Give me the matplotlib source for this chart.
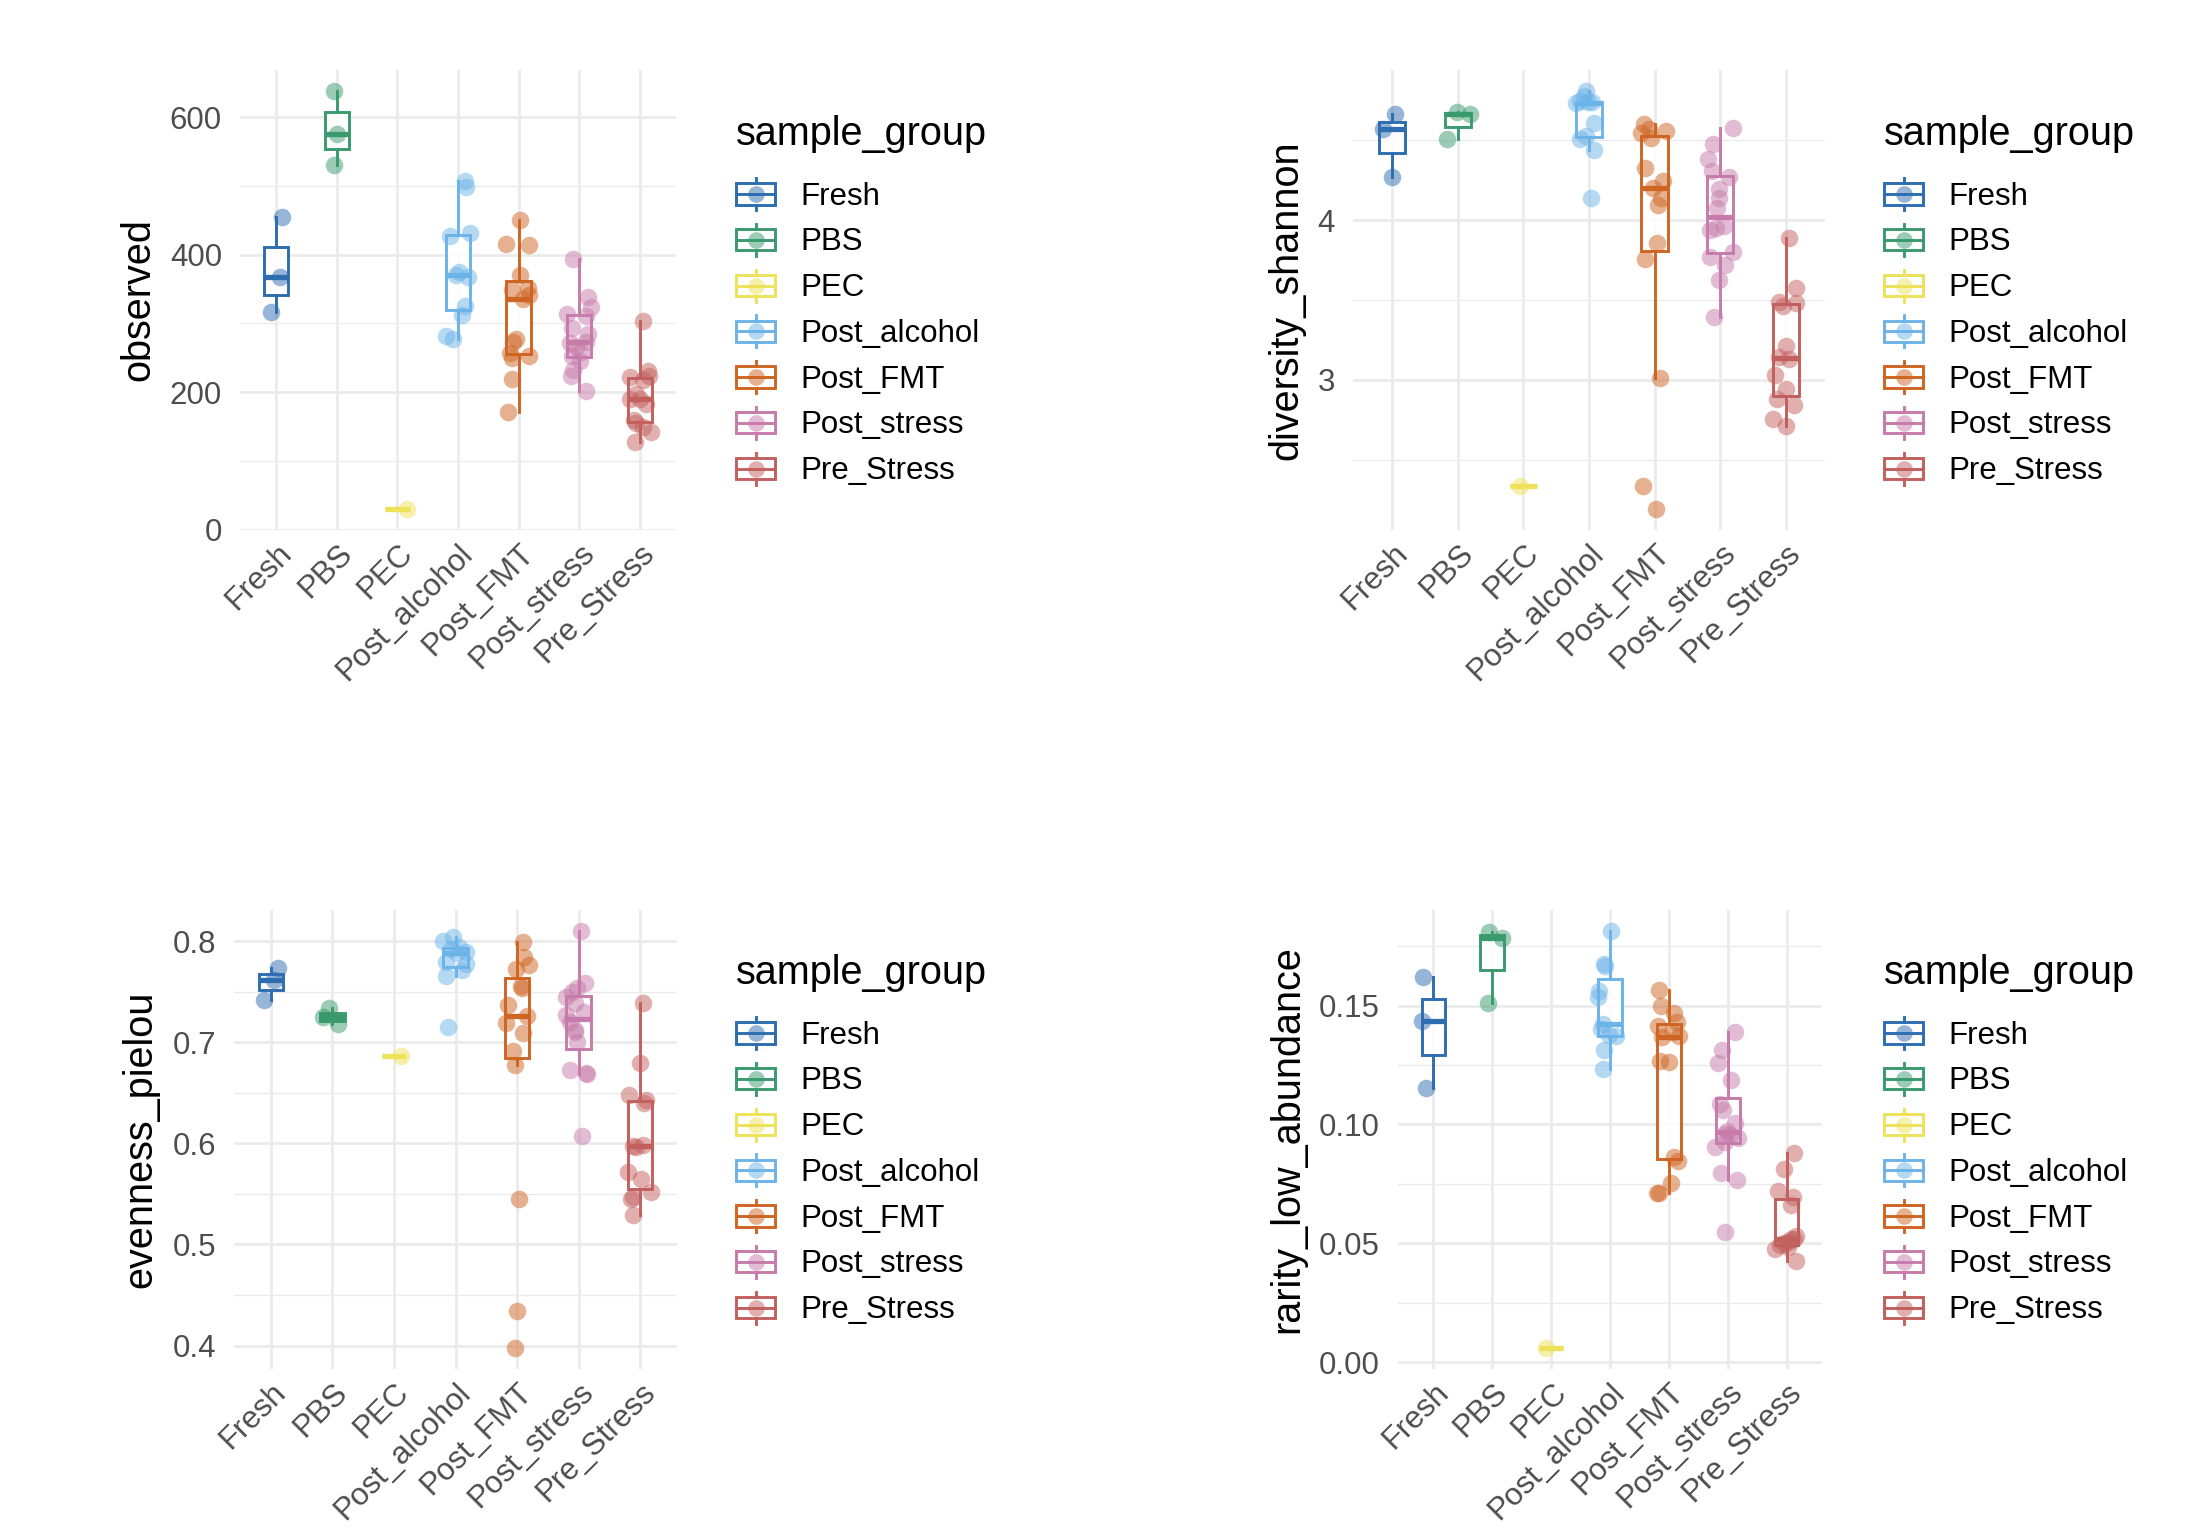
import numpy as np
import matplotlib
matplotlib.use("Agg")
import matplotlib.pyplot as plt
from matplotlib.legend_handler import HandlerBase
from matplotlib.patches import Rectangle, Patch
from matplotlib.lines import Line2D
from matplotlib.ticker import MultipleLocator, StrMethodFormatter
from matplotlib.transforms import ScaledTranslation

plt.rcParams['font.family'] = ['Liberation Sans', 'DejaVu Sans']

groups = ["Fresh", "PBS", "PEC", "Post_alcohol", "Post_FMT", "Post_stress", "Pre_Stress"]
group_colors = ["#2E6DB0", "#3A9A6E", "#EEE25A", "#6CB4E8", "#CE6522", "#C67BAA", "#C2605E"]

# values per group, and the horizontal jitter
observed = {
    "Fresh": [316, 367, 455],
    "PBS": [531, 576, 638],
    "PEC": [30],
    "Post_alcohol": [277, 281, 312, 326, 368, 370, 375, 427, 431, 498, 507],
    "Post_FMT": [171, 219, 250, 253, 257, 273, 277, 335, 341, 349, 352, 371, 414, 416, 451],
    "Post_stress": [202, 224, 232, 245, 253, 258, 266, 272, 273, 284, 294, 311, 314, 324, 339, 393],
    "Pre_Stress": [127, 142, 149, 155, 160, 183, 190, 190, 198, 217, 222, 224, 231, 304],
}
observed_jit = {
    "Fresh": [-0.08, 0.06, 0.10],
    "PBS": [-0.04, 0.0, -0.05],
    "PEC": [0.16],
    "Post_alcohol": [-0.08, -0.19, 0.06, 0.12, 0.17, -0.04, 0.01, -0.13, 0.19, 0.13, 0.11],
    "Post_FMT": [-0.18, -0.11, -0.11, 0.18, -0.14, -0.10, -0.04, 0.08, 0.18, -0.11, 0.15, 0.02, 0.18, -0.20, 0.03],
    "Post_stress": [0.12, -0.13, -0.10, 0.01, -0.11, 0.03, -0.05, -0.15, 0.11, 0.14, -0.11, 0.11, -0.20, 0.19, 0.14, -0.10],
    "Pre_Stress": [-0.08, 0.19, 0.06, -0.06, -0.10, 0.10, 0.0, -0.16, -0.06, 0.06, -0.16, 0.16, 0.13, 0.05],
}

shannon = {
    "Fresh": [4.27, 4.57, 4.665],
    "PBS": [4.509, 4.663, 4.676],
    "PEC": [2.335],
    "Post_alcohol": [4.139, 4.44, 4.51, 4.53, 4.607, 4.736, 4.738, 4.74, 4.745, 4.78, 4.81],
    "Post_FMT": [2.19, 2.335, 3.012, 3.755, 3.859, 4.098, 4.14, 4.2, 4.247, 4.33, 4.513, 4.547, 4.559, 4.57, 4.6],
    "Post_stress": [3.395, 3.626, 3.719, 3.769, 3.80, 3.936, 3.952, 3.963, 4.077, 4.139, 4.195, 4.268, 4.306, 4.385, 4.478, 4.58],
    "Pre_Stress": [2.709, 2.757, 2.84, 2.881, 2.944, 3.033, 3.131, 3.141, 3.214, 3.46, 3.484, 3.49, 3.578, 3.886],
}
shannon_jit = {
    "Fresh": [0.0, -0.15, 0.04],
    "PBS": [-0.16, 0.19, -0.02],
    "PEC": [-0.06],
    "Post_alcohol": [0.03, 0.08, -0.13, -0.05, 0.08, -0.20, -0.02, 0.05, -0.14, -0.08, -0.04],
    "Post_FMT": [0.02, -0.18, 0.08, -0.15, 0.03, 0.06, 0.10, -0.03, 0.13, -0.15, -0.06, -0.20, 0.18, -0.09, -0.16],
    "Post_stress": [-0.09, -0.02, 0.08, -0.16, 0.20, -0.16, -0.06, 0.06, -0.04, -0.02, -0.01, 0.14, -0.12, -0.18, -0.11, 0.19],
    "Pre_Stress": [0.0, -0.19, 0.12, -0.13, 0.01, -0.16, 0.05, -0.10, 0.01, -0.04, 0.15, -0.10, 0.16, 0.05],
}

pielou = {
    "Fresh": [0.7417, 0.7615, 0.773],
    "PBS": [0.718, 0.7245, 0.734],
    "PEC": [0.6867],
    "Post_alcohol": [0.715, 0.766, 0.771, 0.777, 0.7796, 0.7885, 0.789, 0.792, 0.794, 0.8, 0.804],
    "Post_FMT": [0.3974, 0.4343, 0.545, 0.6774, 0.6916, 0.7087, 0.7193, 0.7259, 0.7367, 0.754, 0.7555, 0.772, 0.7763, 0.7839, 0.7987],
    "Post_stress": [0.6076, 0.669, 0.6698, 0.6725, 0.7005, 0.7104, 0.712, 0.720, 0.7269, 0.730, 0.739, 0.745, 0.75, 0.7532, 0.7588, 0.8102],
    "Pre_Stress": [0.5292, 0.5446, 0.5473, 0.5516, 0.5644, 0.5713, 0.5967, 0.5975, 0.5984, 0.6402, 0.6428, 0.6478, 0.6797, 0.7384],
}
pielou_jit = {
    "Fresh": [-0.12, 0.05, 0.11],
    "PBS": [0.09, -0.15, -0.06],
    "PEC": [0.12],
    "Post_alcohol": [-0.12, -0.15, 0.11, 0.17, -0.15, 0.02, 0.17, -0.07, 0.05, -0.20, -0.04],
    "Post_FMT": [-0.04, 0.0, 0.03, -0.04, -0.07, 0.10, -0.18, 0.16, -0.14, 0.08, 0.07, -0.01, 0.19, 0.11, 0.09],
    "Post_stress": [0.06, 0.14, 0.12, -0.14, -0.02, -0.05, -0.06, -0.14, -0.20, 0.09, -0.06, -0.20, -0.11, -0.02, 0.11, 0.04],
    "Pre_Stress": [-0.11, -0.15, -0.12, 0.17, 0.02, -0.19, -0.07, -0.12, 0.05, 0.07, 0.10, -0.18, 0.0, 0.04],
}

rarity = {
    "Fresh": [0.1154, 0.1434, 0.1618],
    "PBS": [0.1511, 0.1786, 0.181],
    "PEC": [0.0059],
    "Post_alcohol": [0.1235, 0.1315, 0.137, 0.1376, 0.1403, 0.1424, 0.1534, 0.156, 0.1665, 0.1676, 0.1814],
    "Post_FMT": [0.071, 0.0713, 0.0752, 0.0846, 0.0864, 0.1263, 0.1268, 0.1368, 0.1371, 0.1389, 0.1415, 0.1431, 0.1469, 0.1497, 0.1567],
    "Post_stress": [0.0549, 0.0766, 0.0797, 0.0906, 0.0927, 0.0941, 0.0955, 0.0959, 0.0973, 0.1007, 0.106, 0.1085, 0.1186, 0.1259, 0.1315, 0.1388],
    "Pre_Stress": [0.0427, 0.0475, 0.0486, 0.0493, 0.05, 0.0507, 0.0517, 0.052, 0.0531, 0.0661, 0.0696, 0.0721, 0.0811, 0.0881],
}
rarity_jit = {
    "Fresh": [-0.12, -0.19, -0.17],
    "PBS": [-0.08, 0.16, -0.05],
    "PEC": [-0.09],
    "Post_alcohol": [-0.12, -0.10, 0.10, -0.02, -0.16, -0.12, -0.20, -0.18, -0.08, -0.10, 0.01],
    "Post_FMT": [-0.17, -0.20, 0.03, 0.16, 0.08, 0.0, -0.15, -0.12, 0.17, 0.05, -0.18, 0.14, 0.08, -0.14, -0.17],
    "Post_stress": [-0.05, 0.15, -0.11, -0.21, -0.05, 0.18, 0.04, -0.05, -0.01, 0.12, -0.08, -0.13, 0.06, -0.17, -0.10, 0.13],
    "Pre_Stress": [0.16, -0.19, 0.02, -0.11, -0.05, 0.02, 0.08, 0.12, 0.15, 0.07, 0.10, -0.14, -0.05, 0.12],
}

W, H = 2210, 1538
GRID = "#EBEBEB"
TXT = "#4D4D4D"
LW = 2.1


class BoxKey(HandlerBase):
    def create_artists(self, legend, orig_handle, xdescent, ydescent, width, height, fontsize, trans):
        c = orig_handle.get_edgecolor()
        x0, y0 = -xdescent, -ydescent
        xm, ym = x0 + width / 2, y0 + height / 2
        bh = height * 0.66
        box = Rectangle((x0, ym - bh / 2), width, bh, facecolor="white", edgecolor=c, lw=LW, transform=trans)
        top = Line2D([xm, xm], [ym + bh / 2, y0 + height], color=c, lw=LW, transform=trans)
        bot = Line2D([xm, xm], [y0, ym - bh / 2], color=c, lw=LW, transform=trans)
        med = Line2D([x0, x0 + width], [ym, ym], color=c, lw=LW, transform=trans)
        dot = Line2D([xm], [ym], marker="o", markersize=12, color=c, alpha=0.5, mec="none", transform=trans)
        return [box, top, bot, med, dot]


def px_rect(l, r, t, b):
    return [l / W, 1 - b / H, (r - l) / W, (b - t) / H]


def panel(fig, rect, vals, jit, ylabel, major, fmt, legend_xy):
    ax = fig.add_axes(px_rect(*rect))
    pos = np.arange(1, len(groups) + 1)
    data = [vals[g] for g in groups]
    bp = ax.boxplot(data, positions=pos, widths=0.4, whis=1.5, showfliers=False,
                    showcaps=False, patch_artist=True, manage_ticks=False, zorder=2)
    for i, c in enumerate(group_colors):
        bp["boxes"][i].set(facecolor=(1, 1, 1, 0.85), edgecolor=c, linewidth=LW)
        bp["medians"][i].set(color=c, linewidth=3.8, solid_capstyle="butt")
        for w in bp["whiskers"][2 * i:2 * i + 2]:
            w.set(color=c, linewidth=LW)
    for i, g in enumerate(groups):
        ax.scatter(pos[i] + np.array(jit[g]), vals[g], s=160, color=group_colors[i],
                   alpha=0.5, linewidths=0, zorder=3)

    allv = np.concatenate(data)
    lo, hi = allv.min(), allv.max()
    pad = 0.05 * (hi - lo)
    ax.set_ylim(lo - pad, hi + pad)
    ax.set_xlim(0.4, len(groups) + 0.6)

    ax.yaxis.set_major_locator(MultipleLocator(major))
    ax.yaxis.set_minor_locator(MultipleLocator(major / 2))
    ax.yaxis.set_major_formatter(StrMethodFormatter(fmt))
    ax.set_xticks(pos)
    ax.set_xticklabels(groups, rotation=45, ha="right", va="top", rotation_mode="anchor")
    shift = ScaledTranslation(10 / 72, 0, fig.dpi_scale_trans)
    for lab in ax.get_xticklabels():
        lab.set_transform(lab.get_transform() + shift)

    ax.grid(which="major", axis="both", color=GRID, linewidth=2.0, zorder=0)
    ax.grid(which="minor", axis="y", color=GRID, linewidth=1.0, zorder=0)
    ax.set_axisbelow(True)
    for s in ax.spines.values():
        s.set_visible(False)
    ax.tick_params(which="both", length=0, labelsize=22.5, labelcolor=TXT)
    ax.tick_params(axis="y", pad=13)
    ax.tick_params(axis="x", pad=6)
    ax.set_ylabel(ylabel, fontsize=28.5, color="black", labelpad=9)

    handles = [Patch(facecolor="white", edgecolor=c, label=g) for g, c in zip(groups, group_colors)]
    leg = fig.legend(handles=handles, title="sample_group", loc="upper left",
                     bbox_to_anchor=(legend_xy[0] / W, 1 - legend_xy[1] / H),
                     frameon=False, fontsize=22.5, title_fontsize=28.5,
                     handler_map={Patch: BoxKey()}, handlelength=1.25, handleheight=1.2,
                     labelspacing=0.39, handletextpad=0.8, borderpad=0, borderaxespad=0)
    leg._legend_box.align = "left"
    leg._legend_box.sep = 18
    return ax


fig = plt.figure(figsize=(W / 100, H / 100), dpi=100)
panel(fig, (240, 676, 70, 530), observed, observed_jit, "observed", 200, "{x:.0f}", (736, 115))
panel(fig, (1353, 1825, 70, 530), shannon, shannon_jit, "diversity_shannon", 1, "{x:.0f}", (1884, 115))
panel(fig, (234, 677, 910, 1369), pielou, pielou_jit, "evenness_pielou", 0.1, "{x:.1f}", (736, 954))
panel(fig, (1398, 1822, 910, 1369), rarity, rarity_jit, "rarity_low_abundance", 0.05, "{x:.2f}", (1884, 954))

fig.savefig("out.png", dpi=100, facecolor="white")
